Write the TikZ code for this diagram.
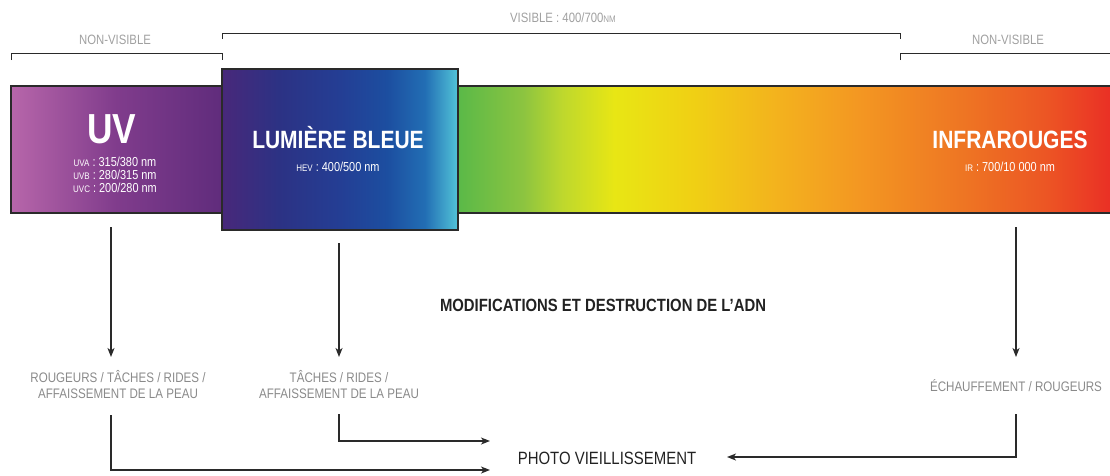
\documentclass[tikz,border=0pt]{standalone}
\usepackage{fontspec}
\setmainfont{Liberation Sans}[FakeStretch=0.84]
\usetikzlibrary{arrows.meta}
\definecolor{lin}{HTML}{2A2A2A}
\definecolor{lgray}{HTML}{A0A0A0}
\definecolor{mgray}{HTML}{8A8A8A}
\definecolor{dtext}{HTML}{222222}
\pgfdeclarehorizontalshading{uvsh}{100bp}{color(0bp)=(rgb,255:red,183;green,102;blue,170);
 color(25bp)=(rgb,255:red,183;green,102;blue,170);
 color(50bp)=(rgb,255:red,128;green,60;blue,140);
 color(75bp)=(rgb,255:red,96;green,44;blue,124);
 color(100bp)=(rgb,255:red,96;green,44;blue,124)}
\pgfdeclarehorizontalshading{bluesh}{100bp}{color(0bp)=(rgb,255:red,72;green,40;blue,122);
 color(25bp)=(rgb,255:red,72;green,40;blue,122);
 color(37bp)=(rgb,255:red,44;green,50;blue,132);
 color(50bp)=(rgb,255:red,36;green,62;blue,148);
 color(60bp)=(rgb,255:red,28;green,78;blue,160);
 color(68bp)=(rgb,255:red,34;green,110;blue,180);
 color(75bp)=(rgb,255:red,82;green,196;blue,216);
 color(100bp)=(rgb,255:red,82;green,196;blue,216)}
\pgfdeclarehorizontalshading{vissh}{100bp}{color(0bp)=(rgb,255:red,90;green,185;blue,72);
 color(25bp)=(rgb,255:red,90;green,185;blue,72);
 color(30bp)=(rgb,255:red,140;green,196;blue,64);
 color(33bp)=(rgb,255:red,190;green,216;blue,45);
 color(37bp)=(rgb,255:red,232;green,230;blue,20);
 color(43bp)=(rgb,255:red,240;green,208;blue,20);
 color(50bp)=(rgb,255:red,243;green,176;blue,30);
 color(56bp)=(rgb,255:red,243;green,150;blue,34);
 color(64bp)=(rgb,255:red,238;green,116;blue,35);
 color(70bp)=(rgb,255:red,236;green,86;blue,36);
 color(75bp)=(rgb,255:red,234;green,48;blue,37);
 color(100bp)=(rgb,255:red,234;green,48;blue,37)}
\tikzset{
 bracket/.style={draw=lin, line width=1pt},
 barline/.style={draw=lin, line width=1.2pt},
 arr/.style={draw=lin, line width=1.3pt, -{Stealth[length=9pt,width=7pt,inset=2.5pt]}},
 hdr/.style={text=lgray, inner sep=0pt, font=\fontsize{13.5}{13.5}\selectfont},
 fx/.style={text=mgray, inner sep=0pt, align=center, font=\fontsize{13.8}{16}\selectfont},
 ttl/.style={text=white, inner sep=0pt, font=\bfseries\fontsize{25}{25}\selectfont},
 rng/.style={text=white, inner sep=0pt, align=center, font=\fontsize{13}{13}\selectfont},
}
\newcommand{\smc}[1]{{\fontsize{9.5}{9.5}\selectfont #1}}
\begin{document}
\begin{tikzpicture}[x=1pt,y=-1pt]
\useasboundingbox (0,0) rectangle (1110,475);
% headers
\node[hdr] (nv1) at (115,40) {NON-VISIBLE};
\node[hdr] (vis) at (563,18) {VISIBLE : 400/700\smc{NM}};
\node[hdr] (nv2) at (1008,40) {NON-VISIBLE};
\draw[bracket] (11,60) -- (11,53) -- (222,53) -- (222,60);
\draw[bracket] (222,39) -- (222,33) -- (900,33) -- (900,39);
\draw[bracket] (900,60) -- (900,53) -- (1110,53);
% bars
\shade[shading=uvsh] (11,86) rectangle (222,213);
\shade[shading=vissh] (458,86) rectangle (1110,213);
\draw[barline] (1111,86) -- (11,86) -- (11,213) -- (1111,213);
\node[shade, shading=bluesh, draw=lin, line width=1.3pt, minimum width=236pt, minimum height=161pt, inner sep=0pt] (blue) at (340,149.5) {};
% titles
\node[text=white, inner sep=0pt, font=\bfseries\fontsize{42}{42}\selectfont] (uvt) at (112,129) {UV};
\node[rng] (uvr) at (115,175) {\smc{UVA} : 315/380 nm\\\smc{UVB} : 280/315 nm\\\smc{UVC} : 200/280 nm};
\node[ttl] (bt) at (338,138) {LUMIÈRE BLEUE};
\node[rng] (br) at (338,167) {\smc{HEV} : 400/500 nm};
\node[ttl] (irt) at (1010,140) {INFRAROUGES};
\node[rng] (irr) at (1010,167) {\smc{IR} : 700/10 000 nm};
% middle
\node[inner sep=0pt, text=dtext, font=\bfseries\fontsize{17.7}{17.7}\selectfont] (adn) at (603,305) {MODIFICATIONS ET DESTRUCTION DE L’ADN};
\coordinate (uvs) at (111,227);
\coordinate (uve) at (111,357);
\coordinate (bs) at (339,243);
\coordinate (be) at (339,357);
\coordinate (irs) at (1016,227);
\coordinate (ire) at (1016,357);
\draw[arr] (uvs) -- (uve);
\draw[arr] (bs) -- (be);
\draw[arr] (irs) -- (ire);
\node[fx] (uvfx) at (118,385) {ROUGEURS / TÂCHES / RIDES /\\AFFAISSEMENT DE LA PEAU};
\node[fx] (bfx) at (339,385) {TÂCHES / RIDES /\\AFFAISSEMENT DE LA PEAU};
\node[fx] (irfx) at (1016,386) {ÉCHAUFFEMENT / ROUGEURS};
% bottom
\node[inner sep=0pt, text=dtext, font=\fontsize{17.8}{17.8}\selectfont] (photo) at (607,458) {PHOTO VIEILLISSEMENT};
\coordinate (uvb) at (111,415);
\coordinate (uvp) at (490,470);
\coordinate (bb) at (339,414);
\coordinate (bp) at (490,441);
\coordinate (irb) at (1016,414);
\coordinate (irp) at (727,457);
\draw[arr] (uvb) |- (uvp);
\draw[arr] (bb) |- (bp);
\draw[arr] (irb) |- (irp);
\end{tikzpicture}
\end{document}
